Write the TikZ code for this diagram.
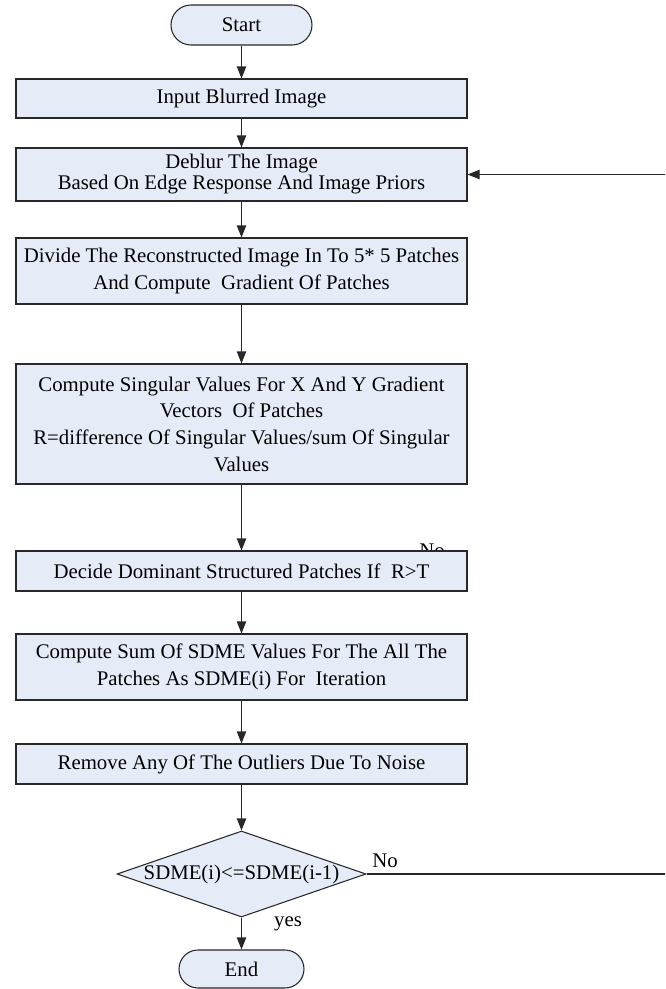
\documentclass[tikz,border=0pt]{standalone}
\usepackage{fontspec}
\setmainfont{Liberation Serif}
\usetikzlibrary{shapes.geometric,arrows.meta,calc}
\definecolor{boxfill}{RGB}{230,236,247}
\definecolor{boxline}{RGB}{40,40,40}
\tikzset{
  procbox/.style={draw=boxline, fill=boxfill, line width=0.8pt, minimum width=338.25pt, inner sep=0pt, align=center, font=\fontsize{15.6pt}{20pt}\selectfont},
  termbox/.style={draw=boxline, fill=boxfill, line width=0.8pt, inner sep=0pt, font=\fontsize{15.6pt}{20pt}\selectfont},
  decbox/.style={draw=boxline, fill=boxfill, line width=0.8pt, diamond, inner sep=0pt, minimum width=186.75pt, minimum height=64.5pt},
  lbl/.style={font=\fontsize{15.6pt}{20pt}\selectfont, inner sep=0pt},
  flow/.style={draw=boxline, line width=0.8pt, -{Triangle[length=9pt,width=7pt]}},
}
\begin{document}
\begin{tikzpicture}[x=0.75pt,y=-0.75pt]
\useasboundingbox (0,0) rectangle (665,989);
\clip (0,0) rectangle (665,989);
% hidden label behind the Decide box
\node[lbl] (nohidden) at (432,551) {No};
\node[termbox, minimum width=105.75pt, minimum height=30pt, rounded corners=15pt] (start) at (241.5,25) {Start};
\node[procbox, minimum height=29.25pt] (input) at (241.5,98.5) {Input Blurred Image};
\node[procbox, minimum height=39.75pt, font=\fontsize{15.6pt}{15.75pt}\selectfont] (deblur) at (241.5,174.5) {Deblur The Image\\Based On Edge Response And Image Priors};
\node[procbox, minimum height=49.5pt] (divide) at (241.5,271) {Divide The Reconstructed Image In To 5* 5 Patches\\And Compute\ \ Gradient Of Patches};
\node[procbox, minimum height=90pt] (compute) at (241.5,424) {Compute Singular Values For X And Y Gradient\\Vectors\ \ Of Patches\\R=difference Of Singular Values/sum Of Singular\\Values};
\node[procbox, minimum height=30pt] (decide) at (241.5,571) {Decide Dominant Structured Patches If\ \ R\textgreater T};
\node[procbox, minimum height=49.5pt] (sum) at (241.5,667) {Compute Sum Of SDME Values For The All The\\Patches As SDME(i) For\ \ Iteration};
\node[procbox, minimum height=30pt] (remove) at (241.5,764) {Remove Any Of The Outliers Due To Noise};
\node[decbox, label={[lbl]center:SDME(i)\textless=SDME(i-1)}] (dec) at (241.5,874) {};
\node[termbox, minimum width=93.75pt, minimum height=28.5pt, rounded corners=14.25pt] (end) at (241.5,969) {End};
\node[lbl] (nolbl) at (385,861) {No};
\node[lbl] (yeslbl) at (288,924) {yes};
\draw[flow] (start) -- (input);
\draw[flow] (input) -- (deblur);
\draw[flow] (deblur) -- (divide);
\draw[flow] (divide) -- (compute);
\draw[flow] (compute) -- (decide);
\draw[flow] (decide) -- (sum);
\draw[flow] (sum) -- (remove);
\draw[flow] (remove) -- (dec);
\draw[flow] (dec) -- (end);
\draw[flow] (dec.east) -- (680,874) |- (deblur.east);
\end{tikzpicture}
\end{document}
